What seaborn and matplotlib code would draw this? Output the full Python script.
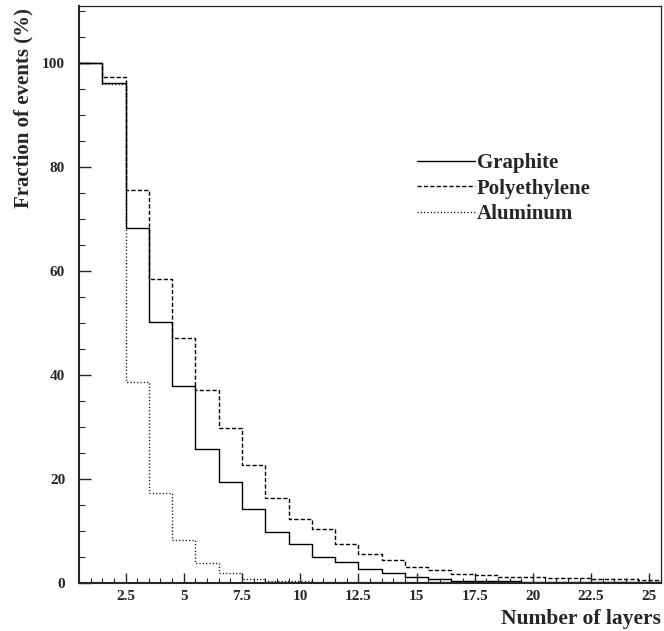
import numpy as np
import pandas as pd
import matplotlib
matplotlib.use("Agg")
import matplotlib.pyplot as plt
from matplotlib.ticker import MultipleLocator, FuncFormatter
from matplotlib.lines import Line2D
import seaborn as sns

# Number of traversed layers (bin centres)
layers = list(range(1, 26))

# Fraction of events (%) reaching each layer
graphite = [100.0, 96.2, 68.3, 50.2, 37.9, 25.8, 19.4, 14.2, 9.8, 7.5,
            5.0, 4.1, 2.7, 2.0, 1.15, 0.8, 0.45, 0.35, 0.3, 0.25,
            0.2, 0.2, 0.15, 0.1, 0.1]
polyethylene = [100.0, 97.3, 75.6, 58.4, 47.2, 37.1, 29.9, 22.7, 16.3, 12.4,
                10.3, 7.5, 5.5, 4.35, 3.0, 2.45, 1.8, 1.45, 1.2, 1.1,
                1.0, 0.9, 0.8, 0.7, 0.6]
aluminum = [100.0, 96.0, 38.6, 17.4, 8.2, 3.9, 1.9, 0.7, 0.4, 0.3,
            0.2, 0.2, 0.15, 0.1, 0.1, 0.1, 0.05, 0.05, 0.0, 0.0,
            0.0, 0.0, 0.0, 0.0, 0.0]

materials = ["Graphite", "Polyethylene", "Aluminum"]
series = [graphite, polyethylene, aluminum]
dash_styles = ["-", (0, (3.0, 1.6)), (0, (0.8, 1.6))]

sns.set_style("ticks")
plt.rcParams["font.family"] = ["Liberation Serif", "DejaVu Serif"]
plt.rcParams["font.weight"] = "bold"

fig = plt.figure(figsize=(6.64, 6.31), dpi=100)
ax = fig.add_axes([0.119, 0.0761, 0.8765, 0.9144])

bin_edges = [b - 0.5 for b in layers] + [layers[-1] + 0.5]
handles = []
for name, values, ls in zip(materials, series, dash_styles):
    df = pd.DataFrame({"layer": layers, "fraction": values})
    sns.histplot(data=df, x="layer", weights="fraction", bins=bin_edges,
                 element="step", fill=False, color="black",
                 linestyle=ls, linewidth=1.0, ax=ax)
    handles.append(Line2D([], [], color="black", linestyle=ls, linewidth=1.0))

ax.set_xlim(0.5, 25.5)
ax.set_ylim(0, 111)

ax.xaxis.set_major_locator(MultipleLocator(2.5))
ax.xaxis.set_minor_locator(MultipleLocator(0.5))
ax.yaxis.set_major_locator(MultipleLocator(20))
ax.yaxis.set_minor_locator(MultipleLocator(5))
ax.xaxis.set_major_formatter(FuncFormatter(lambda v, p: f"{v:g}"))
ax.yaxis.set_major_formatter(FuncFormatter(lambda v, p: f"{v:g}"))

ax.tick_params(axis="x", which="major", direction="in", length=7.5, width=1.0,
               labelsize=11, pad=5, top=False)
ax.tick_params(axis="x", which="minor", direction="in", length=3.5, width=0.8, top=False)
ax.tick_params(axis="y", which="major", direction="in", length=8.5, width=1.0,
               labelsize=11, pad=10, right=False)
ax.tick_params(axis="y", which="minor", direction="in", length=4.3, width=0.8, right=False)
for lab in ax.get_xticklabels() + ax.get_yticklabels():
    lab.set_fontweight("bold")

for side in ["left", "bottom"]:
    ax.spines[side].set_linewidth(1.5)
for side in ["top", "right"]:
    ax.spines[side].set_visible(True)
    ax.spines[side].set_linewidth(0.9)

ax.set_xlabel("Number of layers", fontsize=15.5, fontweight="bold", loc="right")
ax.xaxis.set_label_coords(1.0, -0.045)
ax.set_ylabel("Fraction of events (%)", fontsize=15, fontweight="bold", loc="top")
ax.yaxis.set_label_coords(-0.079, 0.997)

ax.legend(handles, materials, loc="upper left", bbox_to_anchor=(0.581, 0.745),
          frameon=False, prop={"weight": "bold", "size": 15},
          handlelength=2.8, handletextpad=0.05, labelspacing=0.27,
          borderpad=0, borderaxespad=0)

fig.savefig("out.png", dpi=100)
